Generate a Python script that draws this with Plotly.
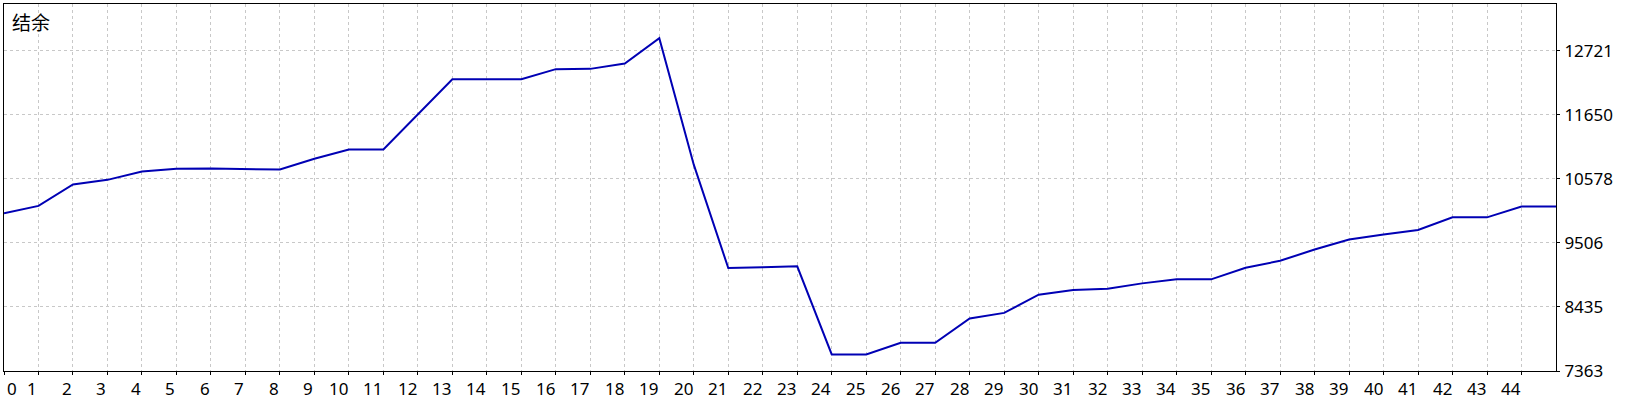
import plotly.graph_objects as go

# ---- data ----
trade_index = list(range(46))
balance = [
    10003, 10126, 10483, 10561, 10701, 10745, 10751, 10745, 10734, 10913,
    11069, 11069, 11650, 12245, 12245, 12245, 12413, 12418, 12508, 12930,
    10815, 9086, 9100, 9115, 7641, 7641, 7835, 7835, 8241, 8335,
    8640, 8718, 8741, 8829, 8896, 8896, 9090, 9207, 9395, 9562,
    9645, 9723, 9934, 9934, 10116, 10116,
]
x_tick_labels = [str(i) for i in range(45)]
y_tick_labels = ["7363", "8435", "9506", "10578", "11650", "12721"]
title_text = "结余"

y_tick_vals = [float(v) for v in y_tick_labels]
y_step = (y_tick_vals[-1] - y_tick_vals[0]) / (len(y_tick_vals) - 1)

FONT = "Noto Sans, Liberation Sans, Arial, sans-serif"
FS = 17

fig = go.Figure()
fig.add_trace(go.Scatter(
    x=trade_index, y=balance, mode="lines",
    line=dict(color="#0000B4", width=2),
    hoverinfo="skip", showlegend=False,
))

grid = dict(showgrid=True, gridcolor="#C8C8C8", gridwidth=1, griddash="3px,3px")

fig.update_xaxes(
    range=[0, 45], tickvals=list(range(45)), showticklabels=False,
    ticks="outside", ticklen=3, tickcolor="black", tickwidth=1,
    showline=True, linecolor="black", linewidth=1, mirror=True,
    zeroline=False, **grid,
)
fig.update_yaxes(
    side="right",
    range=[y_tick_vals[0], y_tick_vals[0] + y_step * 5.73],
    tickvals=y_tick_vals, ticktext=y_tick_labels,
    ticks="outside", ticklen=3, tickcolor="black", tickwidth=1,
    ticklabelstandoff=1,
    tickfont=dict(family=FONT, size=FS, color="black"),
    showline=True, linecolor="black", linewidth=1, mirror=True,
    zeroline=False, **grid,
)

annotations = []
for i, lab in enumerate(x_tick_labels):
    first = (i == 0)
    annotations.append(dict(
        x=trade_index[i], xref="x", y=0, yref="paper",
        text=lab, showarrow=False,
        xanchor="left" if first else "right", yanchor="top",
        xshift=1, yshift=-4,
        font=dict(family=FONT, size=FS, color="black"),
    ))
annotations.append(dict(
    x=0, xref="paper", y=1, yref="paper", text=title_text, showarrow=False,
    xanchor="left", yanchor="top", xshift=6, yshift=-2,
    font=dict(family="Noto Sans CJK SC", size=19, color="black"),
))

fig.update_layout(
    width=1640, height=400,
    margin=dict(l=4, r=84, t=4, b=29),
    paper_bgcolor="white", plot_bgcolor="white",
    annotations=annotations,
)

fig.write_html(
    "out.html",
    config={"displayModeBar": False, "staticPlot": True},
    post_script="document.body.style.margin='0';document.body.style.overflow='hidden';",
)
